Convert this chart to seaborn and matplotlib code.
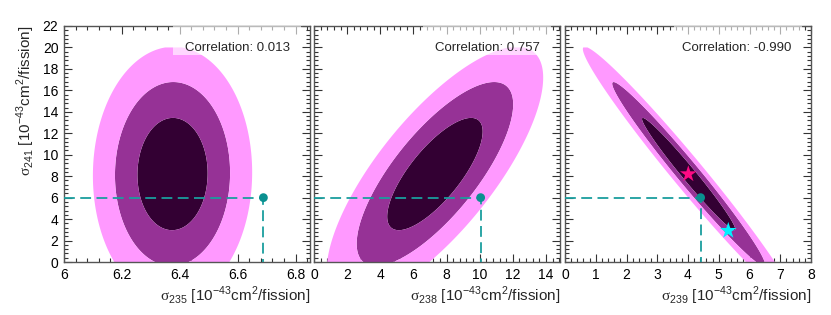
import numpy as np
import matplotlib
matplotlib.use("Agg")
import matplotlib.pyplot as plt
import seaborn as sns
from matplotlib.patches import Rectangle
from matplotlib.ticker import MultipleLocator, AutoMinorLocator

# best fit / uncertainties
isotopes = ["235", "238", "239"]
x_center = [6.375, 7.3, 4.02]
x_sigma = [0.08, 1.9, 1.0]
correlation = [0.013, 0.757, -0.990]
# shape of the drawn contours (last one looks a bit wider than -0.990)
contour_rho = [0.013, 0.757, -0.982]
y_center = 8.2
y_sigma = 3.45
y_grid_top = 20.0

# prediction point (dashed lines) per panel
pred_x = [6.689, 10.06, 4.41]
pred_y = 6.0

# stars in the last panel
star_x = [4.01, 5.31]
star_y = [8.2, 2.92]
star_colors = ["#ff0a84", "#00f0ff"]

x_limits = [(6.0, 6.85), (0.0, 14.85), (0.0, 8.0)]
x_major = [0.2, 2, 1]

levels = [0, 2.30, 6.18, 11.83]
fill_colors = ["#330033", "#963296", "#ff99ff"]
teal = "#1a9e9e"

sns.set_theme(style="ticks")
plt.rcParams["font.family"] = ["Liberation Sans", "DejaVu Sans"]
plt.rcParams["mathtext.fontset"] = "custom"
plt.rcParams["mathtext.rm"] = "Liberation Sans"
plt.rcParams["mathtext.sf"] = "Liberation Serif"

fig = plt.figure(figsize=(8.31, 3.15), dpi=100)
lefts = [64, 314, 565]
axes = [fig.add_axes([l / 831, 53 / 315, 246 / 831, 236 / 315]) for l in lefts]

for i, ax in enumerate(axes):
    x0, x1 = x_limits[i]
    gx = np.linspace(x0, x1, 500)
    gy = np.linspace(0, y_grid_top, 500)
    X, Y = np.meshgrid(gx, gy)
    dx = (X - x_center[i]) / x_sigma[i]
    dy = (Y - y_center) / y_sigma
    r = contour_rho[i]
    chi2 = (dx**2 - 2 * r * dx * dy + dy**2) / (1 - r**2)
    ax.contourf(X, Y, chi2, levels=levels, colors=fill_colors, antialiased=True)

    # dashed guide to prediction
    ax.plot([x0, pred_x[i], pred_x[i]], [pred_y, pred_y, 0], color=teal,
            lw=1.3, ls=(0, (6, 3)), zorder=4)
    sns.scatterplot(x=[pred_x[i]], y=[pred_y], ax=ax, color="#0a9090",
                    s=40, edgecolor="none", zorder=5)

    if i == 2:
        sns.scatterplot(x=star_x, y=star_y, ax=ax, hue=[0, 1],
                        palette=star_colors, marker="*", s=160,
                        edgecolor="none", legend=False, zorder=6)

    ax.add_patch(Rectangle((0.442, 0.877), 0.52, 0.123, transform=ax.transAxes,
                           facecolor="white", alpha=0.6, edgecolor="none", zorder=3))
    ax.text(0.92, 0.905, f"Correlation: {correlation[i]:.3f}", transform=ax.transAxes,
            ha="right", va="center", fontsize=9.5, zorder=7)

    ax.set_xlim(x0, x1)
    ax.set_ylim(0, 22)
    ax.xaxis.set_major_locator(MultipleLocator(x_major[i]))
    ax.xaxis.set_minor_locator(AutoMinorLocator(5))
    ax.yaxis.set_major_locator(MultipleLocator(2))
    ax.yaxis.set_minor_locator(AutoMinorLocator(5))
    ax.tick_params(which="both", direction="in", top=True, right=True,
                   colors="#333333", labelcolor="black", width=0.8)
    ax.tick_params(which="major", length=6, labelsize=10, pad=4)
    ax.tick_params(which="minor", length=3)
    for sp in ax.spines.values():
        sp.set_color("#555555")
        sp.set_linewidth(1.0)
    if i > 0:
        ax.set_yticklabels([])
    ax.set_xlabel(r"$\mathsf{\sigma}_{" + isotopes[i] + r"}$ [10$^{-43}$cm$^{2}$/fission]",
                  loc="right", fontsize=11, labelpad=2)

axes[0].set_xticks([6, 6.2, 6.4, 6.6, 6.8])
axes[0].set_xticklabels(["6", "6.2", "6.4", "6.6", "6.8"])
axes[0].set_ylabel(r"$\mathsf{\sigma}_{241}$ [10$^{-43}$cm$^{2}$/fission]",
                   loc="top", fontsize=11, labelpad=4)

fig.savefig("out.png", dpi=100)
